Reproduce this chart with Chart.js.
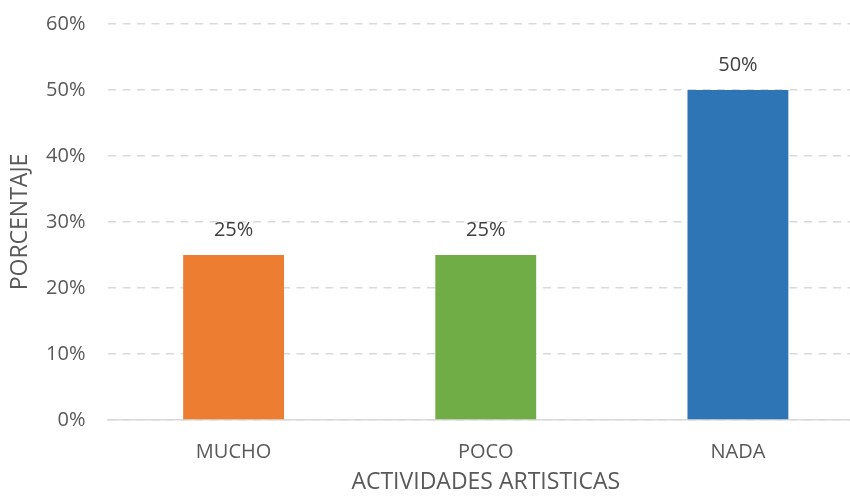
<!DOCTYPE html>
<html>
<head>
<meta charset="utf-8">
<script src="https://cdn.jsdelivr.net/npm/chart.js@4"></script>
<style>
  html, body { margin: 0; padding: 0; background: #fff; overflow: hidden; width: 850px; height: 500px; }
  /* the original plot area runs past the right edge of the picture */
  #wrap { position: relative; width: 864px; height: 500px; }
</style>
</head>
<body>
<div id="wrap"><canvas id="chart"></canvas></div>
<script>
const categories = ["MUCHO", "POCO", "NADA"];
const values = [25, 25, 50];
const barColors = ["#ED7D31", "#70AD47", "#2E75B6"];
const yTicks = [0, 10, 20, 30, 40, 50, 60];

const FONT = "'Open Sans', sans-serif";

// draws the % label above each bar
const valueLabels = {
  id: "valueLabels",
  afterDatasetsDraw(chart) {
    const ctx = chart.ctx;
    const meta = chart.getDatasetMeta(0);
    ctx.save();
    ctx.font = "20px " + FONT;
    ctx.fillStyle = "#404040";
    ctx.textAlign = "center";
    ctx.textBaseline = "middle";
    meta.data.forEach((bar, i) => {
      ctx.fillText(values[i] + "%", bar.x, bar.y - 25);
    });
    ctx.restore();
  }
};

new Chart(document.getElementById("chart"), {
  type: "bar",
  data: {
    labels: categories,
    datasets: [{
      data: values,
      backgroundColor: barColors,
      borderWidth: 0,
      categoryPercentage: 1,
      barPercentage: 0.4
    }]
  },
  options: {
    responsive: true,
    maintainAspectRatio: false,
    animation: false,
    layout: { padding: { left: 0, right: 0, top: 24, bottom: 0 } },
    plugins: {
      legend: { display: false },
      tooltip: { enabled: false }
    },
    scales: {
      x: {
        grid: { display: false, drawTicks: false },
        border: { color: "#d9d9d9", width: 1.5 },
        ticks: {
          color: "#595959",
          font: { family: FONT, size: 20 },
          padding: 20
        },
        title: {
          display: true,
          text: "ACTIVIDADES ARTISTICAS",
          color: "#595959",
          font: { family: FONT, size: 23 },
          padding: { top: 0, bottom: 4 }
        },
        afterFit: (s) => { s.height = 80; }
      },
      y: {
        min: 0,
        max: 60,
        afterBuildTicks: (s) => { s.ticks = yTicks.map(v => ({ value: v })); },
        grid: {
          color: "#d9d9d9",
          lineWidth: 1.5,
          drawTicks: false
        },
        border: { display: false, dash: [8, 6.5] },
        ticks: {
          color: "#595959",
          font: { family: FONT, size: 20 },
          padding: 22,
          callback: (v) => v + "%"
        },
        title: {
          display: true,
          text: "PORCENTAJE",
          color: "#595959",
          font: { family: FONT, size: 23 },
          padding: { top: 7, bottom: 0 }
        },
        afterFit: (s) => {
          s.width = 107.5;
          // keep tick padding from pushing the plot top down
          s.paddingTop = 12;
          s.paddingBottom = 12;
        }
      }
    }
  },
  plugins: [valueLabels]
});
</script>
</body>
</html>
